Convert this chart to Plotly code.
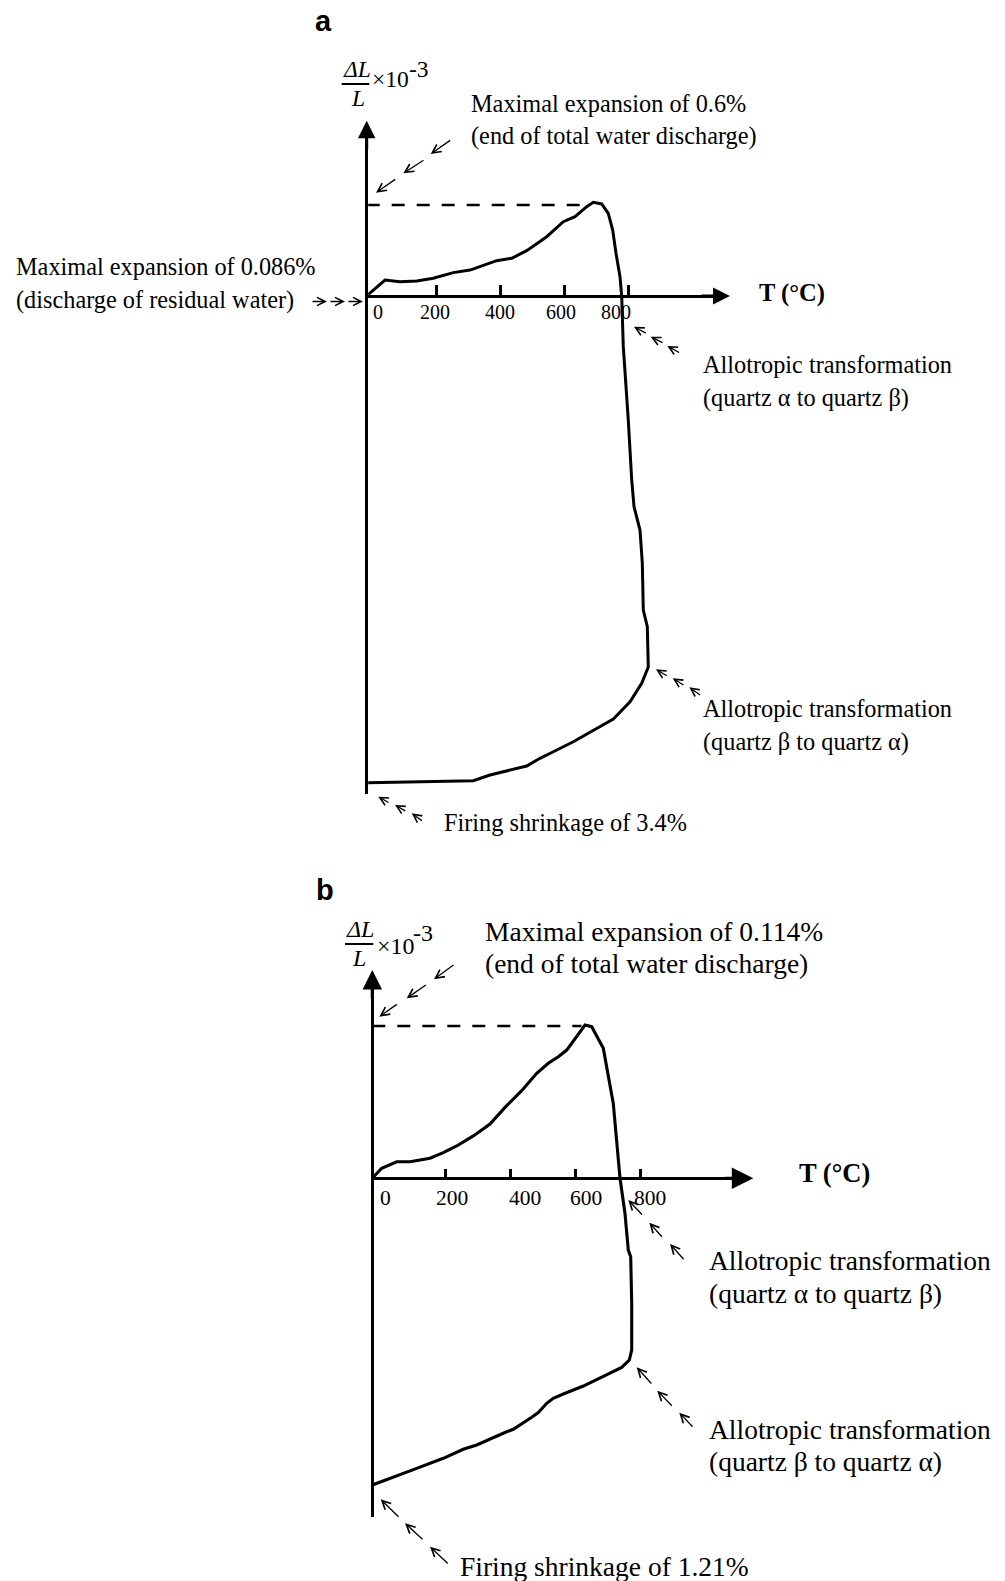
import plotly.graph_objects as go

W, H = 1005, 1581

# ----------------- data -----------------
# Panel a : T (°C) and ΔL/L (x10^-3)
a_T = [-16.6, 40.6, 87.5, 139.7, 191.6, 254.1, 306.3, 342.8, 389.7, 436.6, 483.4,
       545.9, 597.8, 634.4, 670.9, 691.6, 717.8, 738.4, 752.2, 762.5, 775.0, 780.3,
       785.3, 800.9, 811.6, 818.8, 837.5, 844.7, 847.8, 860.3, 863.4, 842.8, 806.3,
       754.1, 691.6, 629.1, 566.6, 525.0, 483.4, 420.9, 368.8, 316.6, -16.6]
a_dL = [0.0, 1.05, 0.94, 0.99, 1.17, 1.54, 1.71, 2.00, 2.33, 2.49, 2.99,
        3.91, 4.90, 5.23, 5.89, 6.18, 6.07, 5.45, 4.35, 2.82, 1.27, 0.0,
        -3.34, -8.18, -12.13, -13.89, -15.43, -17.6, -20.7, -21.8, -24.46, -25.54, -26.75,
        -27.89, -28.66, -29.39, -30.05, -30.48, -30.99, -31.3, -31.58, -31.96, -32.09]
a_peak_dL = 6.0      # maximal expansion 0.6 %
a_peak_T = 650.0     # end of the dashed reference line

# Panel b
b_T = [-23.7, 5.2, 51.4, 92.3, 153.8, 194.8, 236.0, 287.1, 338.5, 384.6, 436.0,
       482.2, 517.8, 548.6, 574.5, 605.2, 630.8, 651.4, 687.1, 717.8, 738.5, 753.8,
       764.0, 771.4, 774.5, 774.5, 767.1, 743.7, 687.1, 625.5, 564.0, 533.2, 512.9,
       487.1, 466.8, 410.2, 389.8, 359.1, 297.5, 256.3, 194.8, 112.9, 40.9, -23.7]
b_dL = [0.0, 0.075, 0.124, 0.124, 0.150, 0.192, 0.242, 0.317, 0.406, 0.531, 0.656,
        0.786, 0.861, 0.910, 0.960, 1.060, 1.147, 1.135, 0.973, 0.561, 0.0, -0.262,
        -0.537, -0.587, -0.936, -1.285, -1.360, -1.415, -1.485, -1.555, -1.615, -1.647, -1.684,
        -1.754, -1.789, -1.879, -1.897, -1.929, -1.996, -2.028, -2.096, -2.171, -2.234, -2.296]
b_peak_dL = 1.14     # maximal expansion 0.114 %
b_peak_T = 620.0

tick_values = [200, 400, 600, 800]
tick_labels = ["0", "200", "400", "600", "800"]

# ----------------- layout frames (pixel geometry) -----------------
SERIF = "Liberation Serif, Times New Roman, serif"
SANS = "Liberation Sans, Arial, sans-serif"

FR = {
    "a": dict(x0=372.0, kx=0.32, y0=296.0, ky=91.0 / 6.0, axis_x=366.7, right=722.0,
              top=129.0, bottom=794.0, lw=3.0, tipx=730.0, tipy=120.7, hx=3.4, hy=3.5,
              ticklen=10),
    "b": dict(x0=380.0, kx=0.325, y0=1178.3, ky=152.3 / 1.14, axis_x=372.3, right=744.0,
              top=979.0, bottom=1516.7, lw=3.2, tipx=753.3, tipy=970.0, hx=4.3, hy=3.9,
              ticklen=8),
}


def T_of(f, px):
    return (px - f["x0"]) / f["kx"]


def v_of(f, py):
    return (f["y0"] - py) / f["ky"]


def axes_for(f):
    left = f["axis_x"] + f["lw"] / 2.0
    xa = dict(domain=[left / W, f["right"] / W], range=[T_of(f, left), T_of(f, f["right"])],
              anchor="free", position=1 - f["y0"] / H, showline=True, linewidth=f["lw"],
              linecolor="black", ticks="inside", tickvals=tick_values, ticklen=f["ticklen"],
              tickwidth=2.7, tickcolor="black", showticklabels=False, showgrid=False,
              zeroline=False, fixedrange=True)
    ya = dict(domain=[1 - f["bottom"] / H, 1 - f["top"] / H],
              range=[v_of(f, f["bottom"]), v_of(f, f["top"])],
              showline=True, linewidth=f["lw"], linecolor="black", ticks="",
              showticklabels=False, showgrid=False, zeroline=False, fixedrange=True)
    return xa, ya


fig = go.Figure()

panels = [("a", "x", "y", a_T, a_dL, a_peak_T, a_peak_dL, 3.0),
          ("b", "x2", "y2", b_T, b_dL, b_peak_T, b_peak_dL, 3.1)]

for key, xr, yr, T, dL, pT, pdL, cw in panels:
    # curve
    fig.add_trace(go.Scatter(x=T, y=dL, xaxis=xr, yaxis=yr, mode="lines",
                             line=dict(color="black", width=cw), hoverinfo="skip"))
    # dashed line of maximal expansion
    fig.add_trace(go.Scatter(x=[T[0], pT], y=[pdL, pdL], xaxis=xr, yaxis=yr, mode="lines",
                             line=dict(color="black", width=2.4, dash="13px,12px"),
                             hoverinfo="skip"))

xa1, ya1 = axes_for(FR["a"])
xa2, ya2 = axes_for(FR["b"])
ya1["anchor"] = "x"
ya2["anchor"] = "x2"

ann = []


def txt(t, x, y, size, xanchor="left", family=SERIF):
    ann.append(dict(text=t, x=x / W, y=1 - y / H, xref="paper", yref="paper",
                    xanchor=xanchor, yanchor="middle", showarrow=False,
                    font=dict(family=family, size=size, color="black")))


def arr(head, tail, size=1.2, width=1.2, head_style=5):
    ann.append(dict(text="", x=head[0] / W, y=1 - head[1] / H, xref="paper", yref="paper",
                    ax=tail[0] - head[0], ay=tail[1] - head[1], showarrow=True,
                    arrowhead=head_style, arrowsize=size, arrowwidth=width,
                    arrowcolor="black", standoff=0))


# axis arrow heads (filled triangles at the end of each axis)
for key in ("a", "b"):
    f = FR[key]
    arr((f["tipx"], f["y0"]), (f["tipx"] - 30, f["y0"]), f["hx"] / f["lw"], f["lw"], 2)
    arr((f["axis_x"], f["tipy"]), (f["axis_x"], f["tipy"] + 30), f["hy"] / f["lw"], f["lw"], 2)

# ---- panel a texts ----
txt("<b>a</b>", 323.8, 21.3, 29, "center", SANS)
txt("<i>ΔL</i>", 356.7, 68.5, 23.5, "center")
txt("<i>L</i>", 357.5, 98, 23.5, "center")
txt("×10", 369.5, 79, 23.5)
txt("-3", 407, 68.5, 23.5)
txt("Maximal expansion of 0.6%", 469.3, 103.5, 24.3)
txt("(end of total water discharge)", 469.3, 136.5, 24.3)
txt("Maximal expansion of 0.086%", 14, 266.7, 24.3)
txt("(discharge of residual water)", 14, 300, 24.3)
txt("<b>T (°C)</b>", 757, 292.5, 24.5)
txt("Allotropic transformation", 700.7, 364, 24.3)
txt("(quartz α to quartz β)", 700.7, 397.5, 24.3)
txt("Allotropic transformation", 700.7, 708.7, 24.3)
txt("(quartz β to quartz α)", 700.7, 742, 24.3)
txt("Firing shrinkage of 3.4%", 441.7, 822, 24.3)
for lab, cx in zip(tick_labels, [377.8, 434.5, 500.3, 561.3, 615.5]):
    txt(lab, cx, 311.7, 20, "center")

# ---- panel b texts ----
txt("<b>b</b>", 324.7, 890, 29, "center", SANS)
txt("<i>ΔL</i>", 360, 929, 24, "center")
txt("<i>L</i>", 359, 958, 24, "center")
txt("×10", 374.5, 946, 24)
txt("-3", 411, 933, 24)
txt("Maximal expansion of 0.114%", 482.7, 931, 27.5)
txt("(end of total water discharge)", 482.7, 963, 27.5)
txt("<b>T (°C)</b>", 796.7, 1173.3, 26.5)
txt("Allotropic transformation", 707.3, 1260, 27.5)
txt("(quartz α to quartz β)", 707.3, 1293, 27.5)
txt("Allotropic transformation", 707.3, 1429.5, 27.5)
txt("(quartz β to quartz α)", 707.3, 1461, 27.5)
txt("Firing shrinkage of 1.21%", 458.3, 1566, 27.5)
for lab, cx in zip(tick_labels, [385.7, 451.7, 525.0, 586.0, 650.0]):
    txt(lab, cx, 1198.3, 21.5, "center")

# ---- pointer arrows ----
big = 1.3
small = 1.25
for h, t in [((376, 192.7), (396.7, 178.3)), ((403.3, 173.3), (425, 159.3)),
             ((430.7, 154), (451.7, 139.3))]:
    arr(h, t, big, 1.3)
for h, t in [((327, 301.5), (311, 301.5)), ((345, 301.5), (329, 301.5)),
             ((363, 301.5), (347, 301.5))]:
    arr(h, t, 1.15, 1.4)
for h, t in [((634, 326.7), (647.3, 334)), ((650.7, 336.7), (664, 343.3)),
             ((667.3, 346), (680.7, 353.3))]:
    arr(h, t, small, 1.3)
for h, t in [((656, 669.3), (668.3, 676.7)), ((672.7, 678.3), (685, 686)),
             ((689.3, 687.3), (701.7, 696))]:
    arr(h, t, small, 1.3)
for h, t in [((378.3, 796.7), (390, 803.3)), ((395, 805), (406.7, 811.7)),
             ((411.7, 813.3), (423.3, 821.7))]:
    arr(h, t, small, 1.3)
for h, t in [((379.3, 1016.7), (398.3, 1003.3)), ((406.7, 998.3), (427.3, 984)),
             ((434, 979.3), (455, 964))]:
    arr(h, t, big, 1.3)
for h, t in [((628.3, 1200), (643.3, 1216)), ((649.3, 1222.7), (663.3, 1238.3)),
             ((670, 1244), (685, 1260.7))]:
    arr(h, t, big, 1.3)
for h, t in [((636.7, 1367.3), (652.7, 1385)), ((657.3, 1390.7), (673.3, 1407.3)),
             ((679.3, 1412.7), (694, 1428.3))]:
    arr(h, t, big, 1.3)
for h, t in [((380.7, 1499.3), (400, 1518.3)), ((405, 1523.3), (424, 1540.7)),
             ((430, 1546.7), (449.3, 1565))]:
    arr(h, t, big, 1.3)

# fraction bars
shapes = [
    dict(type="line", xref="paper", yref="paper", x0=341.7 / W, x1=369.3 / W,
         y0=1 - 84 / H, y1=1 - 84 / H, line=dict(color="black", width=2)),
    dict(type="line", xref="paper", yref="paper", x0=345 / W, x1=373.3 / W,
         y0=1 - 944 / H, y1=1 - 944 / H, line=dict(color="black", width=2)),
]

fig.update_layout(
    width=W, height=H, autosize=False,
    margin=dict(l=0, r=0, t=0, b=0, pad=0),
    paper_bgcolor="white", plot_bgcolor="rgba(0,0,0,0)",
    showlegend=False,
    xaxis=xa1, yaxis=ya1, xaxis2=xa2, yaxis2=ya2,
    annotations=ann, shapes=shapes,
    hovermode=False,
)

fig.write_html("out.html")
